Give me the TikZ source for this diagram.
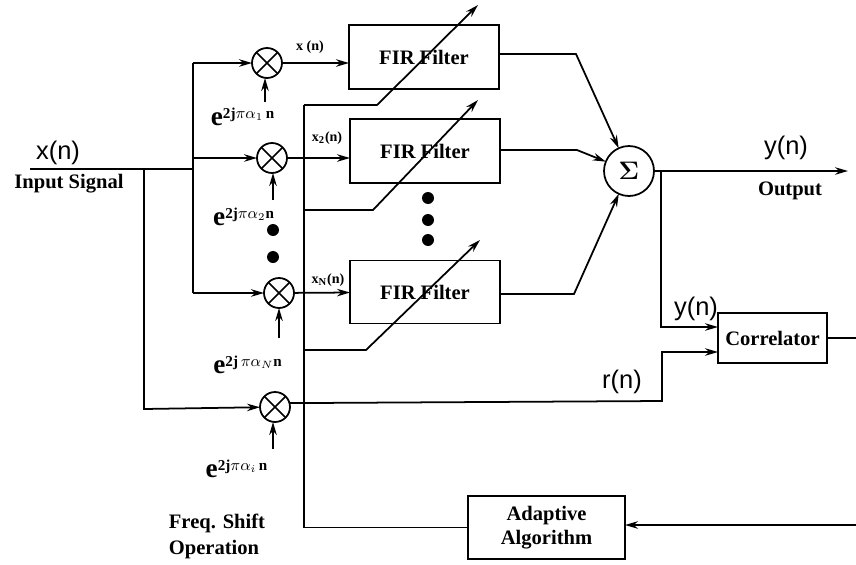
\documentclass[tikz,border=0pt]{standalone}
\usepackage{fontspec}
\setmainfont{Liberation Serif}
\setsansfont{Liberation Sans}
\usetikzlibrary{arrows,arrows.meta,positioning,calc}

\newcommand{\bige}{{\fontsize{15.5}{17}\selectfont e}}

\begin{document}
\begin{tikzpicture}[
    x=0.02cm, y=-0.02cm,
    block/.style={draw, rectangle, line width=1pt, inner sep=0pt, outer sep=0pt, align=center, font=\bfseries\fontsize{11.7}{14}\selectfont},
    mixer/.style={draw, circle, line width=1pt, minimum size=0.6cm, inner sep=0pt, outer sep=0pt,
        path picture={\draw[line width=1pt] (path picture bounding box.north west) -- (path picture bounding box.south east)
            (path picture bounding box.north east) -- (path picture bounding box.south west);}},
    edge/.style={-{Stealth[length=2.6mm,width=1.5mm]}, line width=1pt, draw=black},
    wire/.style={line width=1pt, draw=black},
    label/.style={font=\sffamily\fontsize{14.5}{16}\selectfont},
    caption/.style={font=\bfseries\fontsize{11.7}{13}\selectfont},
    tiny/.style={font=\bfseries\fontsize{8}{9}\selectfont},
    expo/.style={font=\bfseries\fontsize{12.3}{14}\selectfont},
    dot/.style={circle, fill=black, minimum size=0.24cm, inner sep=0pt},
]

\useasboundingbox (0,0) rectangle (856,565);

% FIR filters
\node[block, minimum width=3cm, minimum height=1.28cm] (fir1) at (424,57) {FIR Filter};
\node[block, minimum width=3cm, minimum height=1.28cm] (fir2) at (425,151) {FIR Filter};
\node[block, minimum width=3cm, minimum height=1.26cm] (fir3) at (425,292) {FIR Filter};

% Mixers
\node[mixer] (mix1) at (267,63) {};
\node[mixer] (mix2) at (272,158) {};
\node[mixer] (mix3) at (279,293) {};
\node[mixer] (mix4) at (275,407) {};

% Sum, correlator, adaptation
\node[draw, circle, line width=1pt, minimum size=1cm, inner sep=0pt, outer sep=0pt, font=\Large\boldmath] (sum) at (629,171) {$\Sigma$};
\node[block, minimum width=2.18cm, minimum height=1cm] (corr) at (772.5,338) {Correlator};
\node[block, minimum width=3.14cm, minimum height=1.26cm] (adapt) at (546.5,527.5) {Adaptive\\Algorithm};

% Free ends and bends
\coordinate (in) at (30,169);
\coordinate (split1) at (144,169);
\coordinate (split2) at (193,169);
\coordinate (up1) at (193,63);
\coordinate (up2) at (193,158);
\coordinate (down3) at (193,293);
\coordinate (down4) at (144,409);
\coordinate (exp1) at (265,102);
\coordinate (exp2) at (273,200);
\coordinate (exp3) at (279,338);
\coordinate (exp4) at (273,449);
\coordinate (bus1) at (304,105);
\coordinate (bus2) at (304,210);
\coordinate (bus3) at (304,350);
\coordinate (bus4) at (304,527.5);
\coordinate (knee1) at (377,105);
\coordinate (knee2) at (373,210);
\coordinate (knee3) at (366,350);
\coordinate (tip1) at (478,5);
\coordinate (tip2) at (478,100);
\coordinate (tip3) at (480,240);
\coordinate (bend1) at (576,54);
\coordinate (bend2) at (577,150);
\coordinate (bend3) at (574,294);
\coordinate (tap) at (661,171);
\coordinate (tapend) at (661,327);
\coordinate (out) at (848,171);
\coordinate (rbend1) at (662,401);
\coordinate (rbend2) at (662,352);
\coordinate (right1) at (856,338);
\coordinate (right2) at (856,525);

% Input and frequency shift branches
\draw[wire] (in) -- (split2);
\draw[edge] (split1) -- (down4) -- (mix4);
\draw[wire] (up1) -- (down3);
\draw[edge] (up1) -- (mix1);
\draw[edge] (up2) -- (mix2);
\draw[edge] (down3) -- (mix3);
\draw[edge] (exp1) -- (exp1 |- mix1.south);
\draw[edge] (exp2) -- (exp2 |- mix2.south);
\draw[edge] (exp3) -- (mix3);
\draw[edge] (exp4) -- (exp4 |- mix4.south);
\draw[edge] (mix1) -- (mix1 -| fir1.west);
\draw[edge] (mix2) -- (mix2 -| fir2.west);
\draw[edge] (mix3) -- (fir3);

% Weight bus
\draw[wire] (bus1) -- (bus4) -- (adapt);
\draw[edge] (bus1) -- (knee1) -- (tip1);
\draw[edge] (bus2) -- (knee2) -- (tip2);
\draw[edge] (bus3) -- (knee3) -- (tip3);

% Filter outputs
\draw[edge] (fir1.east |- bend1) -- (bend1) -- (sum);
\draw[edge] (fir2.east |- bend2) -- (bend2) -- (sum);
\draw[edge] (fir3.east |- bend3) -- (bend3) -- (sum);
\draw[edge] (sum) -- (out);

% Correlator
\draw[edge] (tap) -- (tapend) -- (tapend -| corr.west);
\draw[edge] (mix4.15) -- (rbend1) -- (rbend2) -- (rbend2 -| corr.west);
\draw[wire] (corr) -- (right1);
\draw[edge] (right2) -- (right2 -| adapt.east);

% Ellipsis dots
\node[dot] (dota) at (273,230) {};
\node[dot] (dotb) at (273,257) {};
\node[dot] (dotc) at (428,198) {};
\node[dot] (dotd) at (428,220) {};
\node[dot] (dote) at (428,240) {};

% Labels
\node[label] (xlab) at (58,153) {x(n)};
\node[caption] (inlab) at (69,184) {Input Signal};
\node[label] (ylab) at (786,148) {y(n)};
\node[caption] (outlab) at (790,191) {Output};
\node[label] (ylab2) at (696,309) {y(n)};
\node[label] (rlab) at (622,382) {r(n)};
\node[caption] (shiftlab) at (217,523) {Freq. Shift};
\node[caption] (oplab) at (214,550) {Operation};
\node[tiny] (x1lab) at (310,47) {x (n)};
\node[tiny] (x2lab) at (327,138) {x$_{\mathbf{2}}$(n)};
\node[tiny] (x3lab) at (328,280) {x$_{\mathbf{N}}$(n)};

\node[expo] (e1) at (243,117) {\bige$^{\mathbf{2j}\pi\alpha_{1}\,\mathbf{n}}$};
\node[expo] (e2) at (244,217) {\bige$^{\mathbf{2j}\pi\alpha_{2}\mathbf{n}}$};
\node[expo] (e3) at (248,365) {\bige$^{\mathbf{2j}\,\pi\alpha_{N}\mathbf{n}}$};
\node[expo] (e4) at (237,469) {\bige$^{\mathbf{2j}\pi\alpha_{i}\,\mathbf{n}}$};

\end{tikzpicture}
\end{document}
